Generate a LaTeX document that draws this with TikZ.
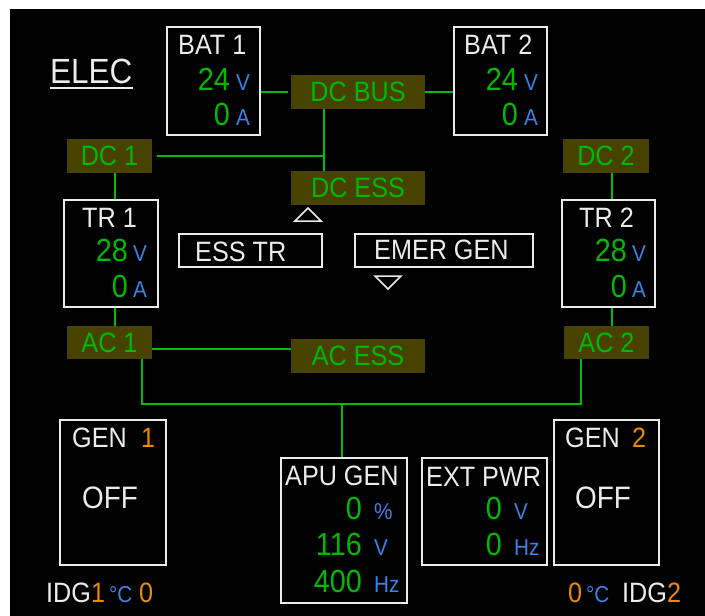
\documentclass[tikz,border=0pt]{standalone}
\usepackage{fontspec}
\usepackage{xcolor}
\usepackage{tikz}
\usetikzlibrary{positioning}

\newfontfamily\ecamfont[FakeStretch=0.9]{Liberation Sans}

\definecolor{ecgreen}{RGB}{0,185,0}
\definecolor{ecwire}{RGB}{0,190,0}
\definecolor{ecblue}{RGB}{60,130,230}
\definecolor{ecamber}{RGB}{235,140,0}
\definecolor{ecolive}{RGB}{72,66,0}
\definecolor{ecwhite}{RGB}{235,235,235}

\begin{document}
\begin{tikzpicture}[
  x=1pt, y=-1pt,
  node distance=5pt,
  panel/.style={rectangle, draw=ecwhite, line width=1.8pt, inner sep=0pt},
  bus/.style={rectangle, fill=ecolive, text=ecgreen, inner sep=0pt, minimum height=34pt, font=\ecamfont\fontsize{28}{30}\selectfont},
  wire/.style={draw=ecwire, line width=2pt},
  lbl/.style={inner sep=0pt, text=ecwhite, font=\ecamfont\fontsize{28}{30}\selectfont},
  numlbl/.style={inner sep=0pt, text=ecgreen, font=\ecamfont\fontsize{32}{34}\selectfont},
  unitlbl/.style={inner sep=0pt, text=ecblue, font=\ecamfont\fontsize{23}{25}\selectfont}
]
\useasboundingbox (0,0) rectangle (705,616);
\fill[white] (0,0) rectangle (705,616);
\fill[black] (10,9) rectangle (705,616);

% title
\node[lbl, font=\ecamfont\fontsize{35}{37}\selectfont, anchor=base west] (elec) at (50,83) {ELEC};
\draw[ecwhite, line width=1.8pt] ([yshift=-5pt]elec.base west) -- ([yshift=-5pt]elec.base east);

% buses
\node[bus, minimum width=134pt] (dcbus) at (358,92) {DC BUS};
\node[bus, minimum width=134pt] (dcess) at (358,188) {DC ESS};
\node[bus, minimum width=85pt] (dc1) at (109.5,156) {DC 1};
\node[bus, minimum width=86pt] (dc2) at (606,156) {DC 2};
\node[bus, minimum width=85pt, minimum height=33pt] (ac1) at (109.5,342.5) {AC 1};
\node[bus, minimum width=85pt, minimum height=33pt] (ac2) at (606.5,342.5) {AC 2};
\node[bus, minimum width=134pt] (acess) at (358,356) {AC ESS};

% batteries
\node[panel, minimum width=93pt, minimum height=108pt] (bat1) at (213.5,81) {};
\node[lbl, anchor=base west] (bat1name) at (178,54) {BAT 1};
\node[numlbl, anchor=base east] (bat1volt) at (230,90) {24};
\node[unitlbl, right=6pt of bat1volt.base east, anchor=base west] (bat1vunit) {V};
\node[numlbl, anchor=base east] (bat1amp) at (230,125) {0};
\node[unitlbl, right=6pt of bat1amp.base east, anchor=base west] (bat1aunit) {A};

\node[panel, minimum width=93pt, minimum height=108pt] (bat2) at (500.5,81) {};
\node[lbl, anchor=base west] (bat2name) at (464,54) {BAT 2};
\node[numlbl, anchor=base east] (bat2volt) at (518,90) {24};
\node[unitlbl, right=6pt of bat2volt.base east, anchor=base west] (bat2vunit) {V};
\node[numlbl, anchor=base east] (bat2amp) at (518,125) {0};
\node[unitlbl, right=6pt of bat2amp.base east, anchor=base west] (bat2aunit) {A};

% transformers
\node[panel, minimum width=94pt, minimum height=107pt] (tr1) at (111,253.5) {};
\node[lbl, anchor=base west] (tr1name) at (82,227) {TR 1};
\node[numlbl, anchor=base east] (tr1volt) at (128,261) {28};
\node[unitlbl, right=5pt of tr1volt.base east, anchor=base west] (tr1vunit) {V};
\node[numlbl, anchor=base east] (tr1amp) at (128,297) {0};
\node[unitlbl, right=5pt of tr1amp.base east, anchor=base west] (tr1aunit) {A};

\node[panel, minimum width=93pt, minimum height=107pt] (tr2) at (608.5,253.5) {};
\node[lbl, anchor=base west] (tr2name) at (579,227) {TR 2};
\node[numlbl, anchor=base east] (tr2volt) at (627,261) {28};
\node[unitlbl, right=5pt of tr2volt.base east, anchor=base west] (tr2vunit) {V};
\node[numlbl, anchor=base east] (tr2amp) at (627,297) {0};
\node[unitlbl, right=5pt of tr2amp.base east, anchor=base west] (tr2aunit) {A};

\node[panel, minimum width=143pt, minimum height=33pt] (esstr) at (250.5,250.5) {};
\node[lbl, anchor=base west] (esstrname) at (195,261) {ESS TR};
\node[panel, minimum width=178pt, minimum height=33pt] (emergen) at (444,250.5) {};
\node[lbl, anchor=base west] (emergenname) at (374,259) {EMER GEN};

\draw[ecwhite, line width=1.5pt] (295,221) -- (308,208) -- (321,221) -- cycle;
\draw[ecwhite, line width=1.5pt] (375,276) -- (401,276) -- (388,289) -- cycle;

% generators
\node[panel, minimum width=106pt, minimum height=145pt] (gen1) at (113,492.5) {};
\node[lbl, anchor=base west] (gen1name) at (72,447) {GEN};
\node[lbl, text=ecamber, anchor=base west] (gen1num) at (141,447) {1};
\node[lbl, font=\ecamfont\fontsize{31}{33}\selectfont, anchor=base] (gen1state) at (110,508) {OFF};

\node[panel, minimum width=105pt, minimum height=145pt] (gen2) at (606.5,492.5) {};
\node[lbl, anchor=base west] (gen2name) at (565,447) {GEN};
\node[lbl, text=ecamber, anchor=base west] (gen2num) at (632,447) {2};
\node[lbl, font=\ecamfont\fontsize{31}{33}\selectfont, anchor=base] (gen2state) at (603,508) {OFF};

\node[panel, minimum width=126pt, minimum height=145pt] (apugen) at (344,530.5) {};
\node[lbl, anchor=base west] (apuname) at (285,485) {APU GEN};
\node[numlbl, anchor=base east] (apuload) at (362,519) {0};
\node[unitlbl, anchor=base west] (apuloadunit) at (374,519) {\%};
\node[numlbl, anchor=base east] (apuvolt) at (362,555) {116};
\node[unitlbl, anchor=base west] (apuvoltunit) at (374,555) {V};
\node[numlbl, anchor=base east] (apufreq) at (362,592) {400};
\node[unitlbl, anchor=base west] (apufrequnit) at (374,592) {Hz};

\node[panel, minimum width=125pt, minimum height=107pt] (extpwr) at (484.5,511.5) {};
\node[lbl, anchor=base west] (extname) at (426,486) {EXT PWR};
\node[numlbl, anchor=base east] (extvolt) at (502,519) {0};
\node[unitlbl, anchor=base west] (extvoltunit) at (514,519) {V};
\node[numlbl, anchor=base east] (extfreq) at (502,555) {0};
\node[unitlbl, anchor=base west] (extfrequnit) at (514,555) {Hz};

% IDG readouts
\node[lbl, anchor=base west] (idg1) at (46,602) {IDG\textcolor{ecamber}{1}};
\node[unitlbl, anchor=base west] (idg1unit) at (109,602) {°C};
\node[lbl, text=ecamber, anchor=base west] (idg1temp) at (139,602) {0};
\node[lbl, text=ecamber, anchor=base west] (idg2temp) at (568,602) {0};
\node[unitlbl, anchor=base west] (idg2unit) at (586,602) {°C};
\node[lbl, anchor=base west] (idg2) at (622,602) {IDG\textcolor{ecamber}{2}};

% wiring
\coordinate (dctee) at (324,156);
\coordinate (actee) at (342,404);
\draw[wire, shorten >=3pt] (bat1.east |- dcbus.west) -- (dcbus.west);
\draw[wire] (dcbus.east) -- (dcbus.east -| bat2.west);
\draw[wire] ([xshift=-34pt]dcbus.south) -- ([xshift=-34pt]dcess.north);
\draw[wire, shorten <=5pt] (dc1.east) -- (dctee);
\draw[wire] ([xshift=5.5pt]dc1.south) -- ([xshift=5.5pt]dc1.south |- tr1.north);
\draw[wire] ([xshift=5.5pt]ac1.north |- tr1.south) -- ([xshift=5.5pt]ac1.north);
\draw[wire] ([xshift=6pt]dc2.south) -- ([xshift=6pt]dc2.south |- tr2.north);
\draw[wire] ([xshift=5.5pt]ac2.north |- tr2.south) -- ([xshift=5.5pt]ac2.north);
\draw[wire] ([yshift=-6pt]ac1.east) -- ([yshift=-6pt]ac1.east -| acess.west);
\draw[wire] ([xshift=32.5pt]ac1.south) |- (actee) -| ([xshift=-25.5pt]ac2.south);
\draw[wire] (actee) -- (actee |- apugen.north);
\end{tikzpicture}
\end{document}
